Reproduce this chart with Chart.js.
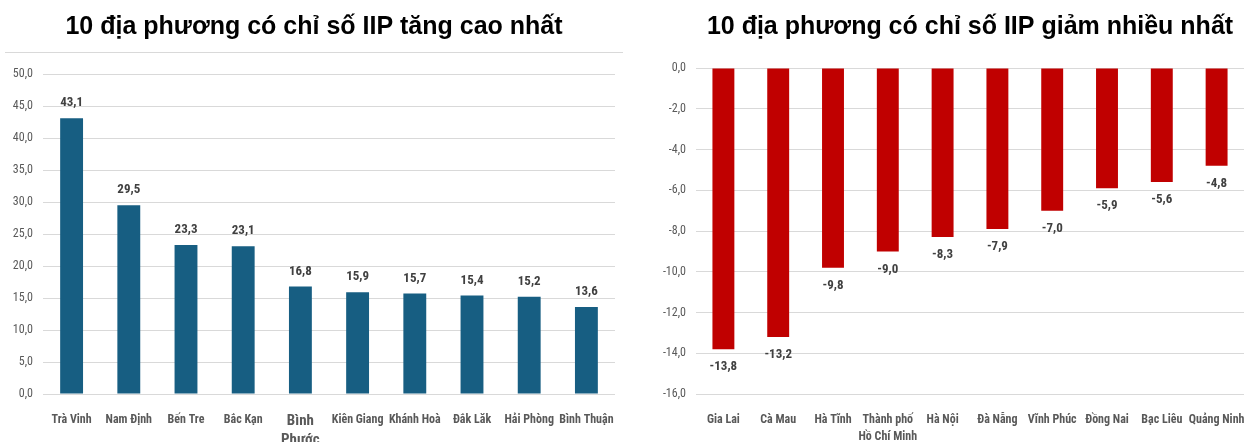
<!DOCTYPE html>
<html>
<head>
<meta charset="utf-8">
<script src="https://cdn.jsdelivr.net/npm/chart.js@4"></script>
<style>
  body { margin: 0; background: #fff; }
  .wrap { position: absolute; top: 0; height: 442px; }
  .w-1 { left: 0; width: 625px; }
  .w-2 { left: 625px; width: 630px; }
  .sep { position: absolute; left: 5px; top: 52px; width: 618px; border-top: 1px solid #d9d9d9; }
</style>
</head>
<body>
<div class="wrap w-1"><canvas id="myChart"></canvas></div>
<div class="sep"></div>
<div class="wrap w-2"><canvas id="myChart2"></canvas></div>
<script>
// du lieu doc tu hinh
const upLabels = ['Trà Vinh', 'Nam Định', 'Bến Tre', 'Bắc Kạn', ['Bình', 'Phước'], 'Kiên Giang', 'Khánh Hoà', 'Đắk Lăk', 'Hải Phòng', 'Bình Thuận'];
const upValues = [43.1, 29.5, 23.3, 23.1, 16.8, 15.9, 15.7, 15.4, 15.2, 13.6];

const downLabels = ['Gia Lai', 'Cà Mau', 'Hà Tĩnh', ['Thành phố', 'Hồ Chí Minh'], 'Hà Nội', 'Đà Nẵng', 'Vĩnh Phúc', 'Đồng Nai', 'Bạc Liêu', 'Quảng Ninh'];
const downValues = [-13.8, -13.2, -9.8, -9.0, -8.3, -7.9, -7.0, -5.9, -5.6, -4.8];

const narrow = "'Liberation Sans Narrow', 'Arial Narrow', 'Roboto Condensed', sans-serif";

function fmt(v) {
  return v.toFixed(1).replace('.', ',');
}

const valueLabels = {
  id: 'valueLabels',
  afterDatasetsDraw(chart) {
    const ctx = chart.ctx;
    const meta = chart.getDatasetMeta(0);
    ctx.save();
    ctx.font = "bold 13px " + narrow;
    ctx.fillStyle = '#404040';
    ctx.textAlign = 'center';
    ctx.textBaseline = 'middle';
    meta.data.forEach((bar, i) => {
      const v = chart.data.datasets[0].data[i];
      const y = v >= 0 ? bar.y - 15 : bar.y + 18;
      ctx.fillText(fmt(v), bar.x, y);
    });
    ctx.restore();
  }
};

function makeChart(id, title, labels, data, color, yOpts, axisW, xH, pad, titleBottom, fullTitle, bigIndex) {
  const ctx = document.getElementById(id).getContext('2d');
  return new Chart(ctx, {
    type: 'bar',
    data: {
      labels: labels,
      datasets: [{
        data: data,
        backgroundColor: color,
        borderWidth: 0,
        categoryPercentage: 1,
        barPercentage: 0.4
      }]
    },
    options: {
      responsive: true,
      maintainAspectRatio: false,
      animation: false,
      layout: { padding: pad },
      plugins: {
        legend: { display: false },
        tooltip: { enabled: false },
        title: {
          display: true,
          text: title,
          color: '#000',
          fullSize: fullTitle,
          font: { family: "'Liberation Sans', Arial, sans-serif", size: 25, weight: 'bold' },
          padding: { top: 12, bottom: titleBottom }
        }
      },
      scales: {
        x: {
          grid: { display: false },
          border: { display: false },
          ticks: {
            color: '#595959',
            padding: 10,
            maxRotation: 0,
            autoSkip: false,
            font: (c) => c.index === bigIndex
              ? { family: narrow, size: 15, weight: 'bold', lineHeight: 1.25 }
              : { family: narrow, size: 12, weight: 'bold', lineHeight: 1.4 }
          },
          afterFit: (s) => { s.height = xH; }
        },
        y: Object.assign({
          grid: { color: '#d9d9d9', lineWidth: 1, drawTicks: false },
          border: { display: false },
          afterFit: (s) => { s.width = axisW; }
        }, yOpts)
      }
    },
    plugins: [valueLabels]
  });
}

makeChart('myChart', '10 địa phương có chỉ số IIP tăng cao nhất', upLabels, upValues, '#175e82',
  { min: 0, max: 50, ticks: { stepSize: 5, color: '#595959', padding: 10, font: { family: narrow, size: 12 }, callback: (v) => fmt(v) } },
  30, 48, { top: 0, right: 10, bottom: 0, left: 13 }, 32, true, 4);

makeChart('myChart2', '10 địa phương có chỉ số IIP giảm nhiều nhất', downLabels, downValues, '#c00000',
  { min: -16, max: 0, ticks: { stepSize: 2, color: '#595959', padding: 10, font: { family: narrow, size: 12 }, callback: (v) => fmt(v) } },
  71, 48, { top: 0, right: 7, bottom: 0, left: 0 }, 26, false, -1);
</script>
</body>
</html>
